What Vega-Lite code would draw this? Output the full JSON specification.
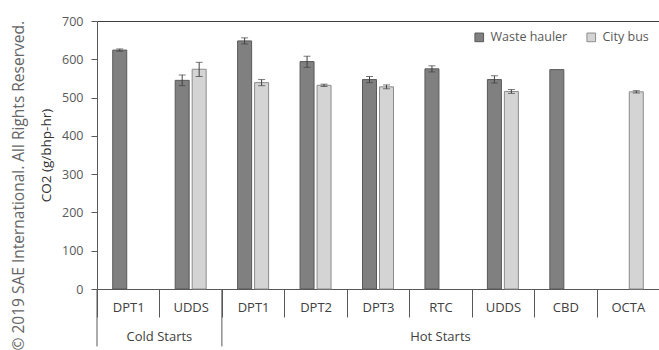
{
  "$schema": "https://vega.github.io/schema/vega-lite/v6.json",
  "width": 562,
  "height": 268,
  "autosize": {"type": "none"},
  "padding": {"left": 97, "top": 21, "right": 0, "bottom": 61},
  "background": "white",
  "config": {
    "view": {"stroke": null},
    "font": "Open Sans"
  },
  "title": {
    "text": "© 2019 SAE International. All Rights Reserved.",
    "orient": "left",
    "anchor": "end",
    "frame": "group",
    "fontSize": 15.5,
    "fontWeight": "normal",
    "color": "#666666",
    "font": "Open Sans",
    "offset": 12
  },
  "datasets": {
    "bars": [
      {"cat": "C-DPT1", "series": "Waste hauler", "value": 624, "lo": 621, "hi": 627},
      {"cat": "C-UDDS", "series": "Waste hauler", "value": 545, "lo": 531, "hi": 559},
      {"cat": "C-UDDS", "series": "City bus", "value": 574, "lo": 555, "hi": 592},
      {"cat": "H-DPT1", "series": "Waste hauler", "value": 648, "lo": 640, "hi": 656},
      {"cat": "H-DPT1", "series": "City bus", "value": 539, "lo": 531, "hi": 547},
      {"cat": "H-DPT2", "series": "Waste hauler", "value": 594, "lo": 579, "hi": 608},
      {"cat": "H-DPT2", "series": "City bus", "value": 532, "lo": 529, "hi": 535},
      {"cat": "H-DPT3", "series": "Waste hauler", "value": 547, "lo": 539, "hi": 555},
      {"cat": "H-DPT3", "series": "City bus", "value": 528, "lo": 523, "hi": 533},
      {"cat": "H-RTC", "series": "Waste hauler", "value": 575, "lo": 567, "hi": 583},
      {"cat": "H-UDDS", "series": "Waste hauler", "value": 547, "lo": 538, "hi": 557},
      {"cat": "H-UDDS", "series": "City bus", "value": 516, "lo": 511, "hi": 521},
      {"cat": "H-CBD", "series": "Waste hauler", "value": 573, "lo": null, "hi": null},
      {"cat": "H-OCTA", "series": "City bus", "value": 515, "lo": 512, "hi": 518}
    ],
    "groupEdges": [{"cat": "C-DPT1"}, {"cat": "H-DPT1"}],
    "groups": [{"cat": "C-UDDS", "label": "Cold Starts"}, {"cat": "H-RTC", "label": "Hot Starts"}]
  },
  "layer": [
    {
      "data": {"name": "bars"},
      "mark": {"type": "bar", "strokeWidth": 1},
      "encoding": {
        "x": {
          "field": "cat", "type": "nominal", "title": null,
          "scale": {"domain": ["C-DPT1", "C-UDDS", "H-DPT1", "H-DPT2", "H-DPT3", "H-RTC", "H-UDDS", "H-CBD", "H-OCTA"], "paddingInner": 0, "paddingOuter": 0},
          "axis": {
            "labelExpr": "split(datum.label, '-')[1]",
            "labelAngle": 0,
            "labelFontSize": 13,
            "labelColor": "#404040",
            "labelPadding": -16,
            "tickBand": "extent",
            "tickSize": 28,
            "tickColor": "#595959",
            "domainColor": "#595959",
            "labelFont": "Open Sans"
          }
        },
        "xOffset": {"field": "series", "type": "nominal", "scale": {"domain": ["Waste hauler", "City bus"], "paddingInner": 0.176, "paddingOuter": 0.926}},
        "y": {
          "field": "value", "type": "quantitative",
          "title": "CO2 (g/bhp-hr)",
          "scale": {"domain": [0, 700], "nice": false, "zero": true},
          "axis": {
            "tickCount": 7,
            "grid": true,
            "gridColor": "#404040",
            "gridOpacity": {"condition": {"test": "datum.value == 700", "value": 1}, "value": 0},
            "labelOverlap": false,
            "tickSize": 6,
            "labelPadding": 8,
            "labelFontSize": 12.5,
            "labelColor": "#595959",
            "tickColor": "#595959",
            "domainColor": "#595959",
            "titleFontSize": 13.5,
            "titleFontWeight": "normal",
            "titleColor": "#333333",
            "titlePadding": 8,
            "labelFont": "Open Sans",
            "titleFont": "Open Sans"
          }
        },
        "fill": {
          "field": "series", "type": "nominal",
          "scale": {"domain": ["Waste hauler", "City bus"], "range": ["#808080", "#d4d4d4"]},
          "legend": {
            "title": null,
            "orient": "top-right",
            "direction": "horizontal",
            "offset": 10,
            "labelFontSize": 12.5,
            "labelColor": "#595959",
            "labelOffset": 5,
            "symbolType": "square",
            "symbolSize": 75,
            "symbolStrokeColor": "#595959",
            "symbolStrokeWidth": 1,
            "columnPadding": 16,
            "labelFont": "Open Sans"
          }
        },
        "stroke": {
          "field": "series", "type": "nominal",
          "scale": {"domain": ["Waste hauler", "City bus"], "range": ["#595959", "#8c8c8c"]},
          "legend": null
        }
      }
    },
    {
      "data": {"name": "bars"},
      "mark": {"type": "rule", "color": "#404040", "strokeWidth": 1},
      "encoding": {
        "x": {"field": "cat", "type": "nominal", "title": null},
        "xOffset": {"field": "series", "type": "nominal"},
        "y": {"field": "lo", "type": "quantitative"},
        "y2": {"field": "hi"}
      }
    },
    {
      "data": {"name": "bars"},
      "mark": {"type": "tick", "color": "#404040", "size": 7, "thickness": 1, "orient": "horizontal"},
      "encoding": {
        "x": {"field": "cat", "type": "nominal", "title": null},
        "xOffset": {"field": "series", "type": "nominal"},
        "y": {"field": "lo", "type": "quantitative"}
      }
    },
    {
      "data": {"name": "bars"},
      "mark": {"type": "tick", "color": "#404040", "size": 7, "thickness": 1, "orient": "horizontal"},
      "encoding": {
        "x": {"field": "cat", "type": "nominal", "title": null},
        "xOffset": {"field": "series", "type": "nominal"},
        "y": {"field": "hi", "type": "quantitative"}
      }
    },
    {
      "data": {"name": "groupEdges"},
      "mark": {"type": "rule", "color": "#595959", "strokeWidth": 1, "clip": false},
      "encoding": {
        "x": {"field": "cat", "type": "nominal", "bandPosition": 0, "title": null},
        "y": {"datum": 0},
        "y2": {"datum": -150}
      }
    },
    {
      "data": {"name": "groups"},
      "transform": [{"filter": "datum.cat == 'C-UDDS'"}],
      "mark": {"type": "text", "fontSize": 13, "color": "#404040", "baseline": "middle", "font": "Open Sans"},
      "encoding": {
        "x": {"field": "cat", "type": "nominal", "bandPosition": 0, "title": null},
        "y": {"datum": -125},
        "text": {"field": "label"}
      }
    },
    {
      "data": {"name": "groups"},
      "transform": [{"filter": "datum.cat == 'H-RTC'"}],
      "mark": {"type": "text", "fontSize": 13, "color": "#404040", "baseline": "middle", "font": "Open Sans"},
      "encoding": {
        "x": {"field": "cat", "type": "nominal", "bandPosition": 0.5, "title": null},
        "y": {"datum": -125},
        "text": {"field": "label"}
      }
    }
  ]
}
